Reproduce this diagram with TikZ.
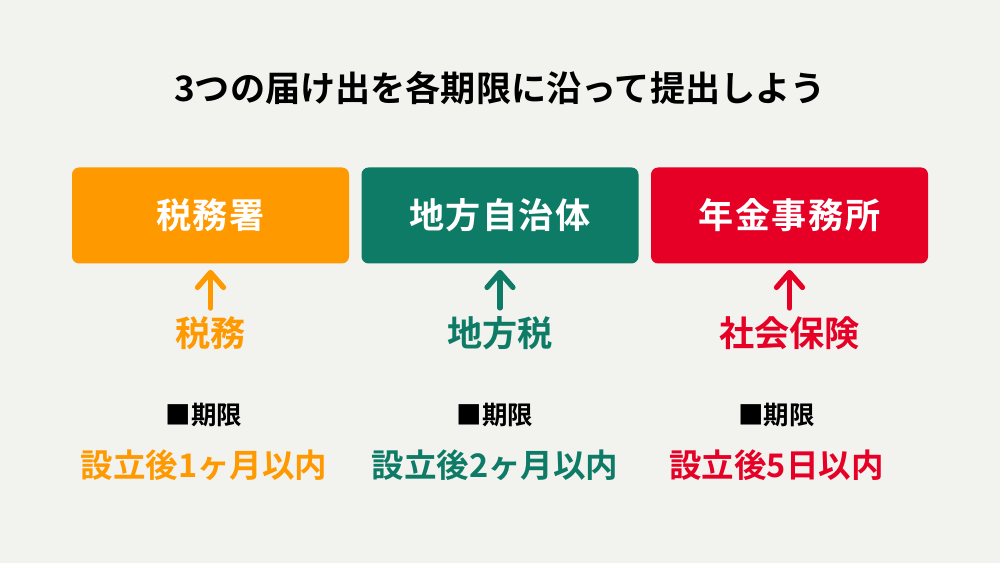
\documentclass[tikz,border=0pt]{standalone}
\usepackage{fontspec}
\setmainfont{Noto Sans CJK JP}[BoldFont={* Bold}]
\newfontfamily\jpbold{Noto Sans CJK JP Bold}
\newfontfamily\jpboldwide{Noto Sans CJK JP Bold}[LetterSpace=4]
\usetikzlibrary{
  arrows.meta,
  positioning,
}
\definecolor{bgcol}{HTML}{F2F2EE}
\definecolor{taxorange}{HTML}{FF9900}
\definecolor{localgreen}{HTML}{0E7B66}
\definecolor{pensionred}{HTML}{E60026}
\tikzset{
  >={Straight Barb[length=3mm,width=5.2mm,line cap=round,line join=round]},
  office/.style={fill=#1, rounded corners=4pt, minimum width=5.54cm,
    minimum height=1.92cm, text=white, font=\jpboldwide\fontsize{20}{24}\selectfont},
  kind/.style={text=#1, inner sep=0pt, font=\jpbold\fontsize{20}{24}\selectfont},
  limithead/.style={inner sep=0pt, font=\jpbold\fontsize{14.5}{18}\selectfont},
  limittext/.style={text=#1, inner sep=0pt, font=\jpbold\fontsize{18.5}{22}\selectfont},
}
\begin{document}
\begin{tikzpicture}
      \fill[bgcol] (0,0) rectangle (20,11.26);
      \useasboundingbox (0,0) rectangle (20,11.26);
      \node[inner sep=0pt, font=\jpbold\fontsize{20}{24}\selectfont] (title) at (10,9.50)
        {3つの届け出を各期限に沿って提出しよう};
      \foreach \i/\x/\lx/\col/\A/\B/\C in {
        1/4.21/4.08/taxorange/税務署/税務/設立後1ヶ月以内,
        2/10.00/9.90/localgreen/地方自治体/地方税/設立後2ヶ月以内,
        3/15.79/15.53/pensionred/年金事務所/社会保険/設立後5日以内
      } {
        \node[office=\col] (office-\i) at (\x,6.95) {\A};
        \node[kind=\col] (kind-\i) at (\x,4.60) {\B};
        \node[limithead] (head-\i) at (\lx,2.96) {■期限};
        \node[limittext=\col] (limit-\i) at (\lx,1.96) {\C};
        \draw[->, draw=\col, line width=3pt, line cap=round,
          shorten <=0.16cm, shorten >=0.12cm] (kind-\i) -- (office-\i);
      }
    \end{tikzpicture}
\end{document}
